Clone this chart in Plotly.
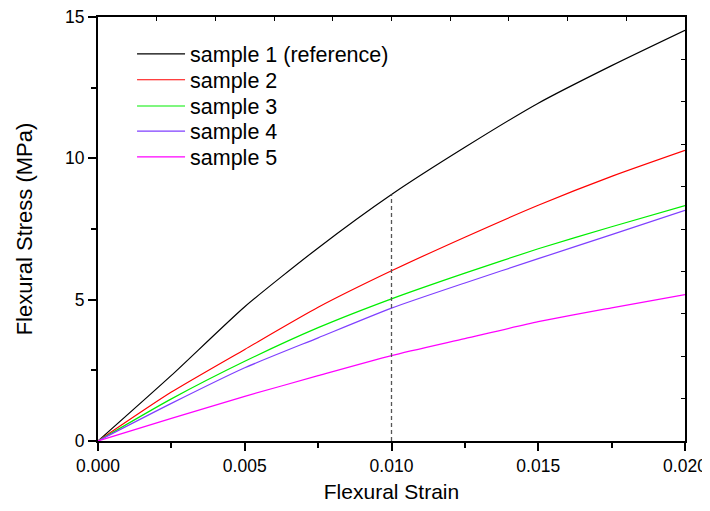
import plotly.graph_objects as go

# flexural strain
strain = [0.0, 0.0025, 0.005, 0.0075, 0.010, 0.0125, 0.015, 0.0175, 0.020]

# flexural stress, MPa
sample1 = [0.0, 2.32, 4.75, 6.83, 8.72, 10.39, 11.95, 13.28, 14.53]
sample2 = [0.0, 1.73, 3.24, 4.73, 6.02, 7.21, 8.34, 9.36, 10.28]
sample3 = [0.0, 1.49, 2.82, 4.01, 5.03, 5.94, 6.80, 7.58, 8.33]
sample4 = [0.0, 1.33, 2.59, 3.65, 4.70, 5.59, 6.45, 7.30, 8.16]
sample5 = [0.0, 0.80, 1.58, 2.31, 3.02, 3.62, 4.22, 4.71, 5.18]

names = ["sample 1 (reference)", "sample 2", "sample 3", "sample 4", "sample 5"]
colors = ["#000000", "#FF0000", "#00EE00", "#7F3FFF", "#FF00FF"]
series = [sample1, sample2, sample3, sample4, sample5]

marker_strain = 0.010  # dashed guide at this strain

fnt = "Liberation Sans, Arial, sans-serif"

fig = go.Figure()
legend_ids = ["legend", "legend2", "legend3", "legend4", "legend5"]
for nm, col, ys, lg in zip(names, colors, series, legend_ids):
    fig.add_trace(go.Scatter(x=strain, y=ys, mode="lines", name=nm, legend=lg,
                             line=dict(color=col, width=1.2, shape="spline",
                                       smoothing=0.6)))

# dashed guide up to sample 1
i = strain.index(marker_strain)
fig.add_trace(go.Scatter(x=[marker_strain, marker_strain], y=[0, sample1[i]],
                         mode="lines", showlegend=False, hoverinfo="skip",
                         line=dict(color="#555555", width=1.3, dash="4px,3px")))

# one legend per row so the rows can sit as tight as in the original
row_y = [0.913, 0.852, 0.790, 0.731, 0.670]
leg = {}
for lg, yy in zip(legend_ids, row_y):
    leg[lg] = dict(x=0.058, y=yy, xanchor="left", yanchor="middle",
                   bgcolor="rgba(0,0,0,0)", itemwidth=48,
                   font=dict(size=21.5, family=fnt))

# page body has an 8px margin -> figure sized so the page doesn't scroll
fig.update_layout(
    width=702, height=495,
    margin=dict(l=90, r=24.5, t=9, b=61.5),
    paper_bgcolor="white", plot_bgcolor="white",
    font=dict(family=fnt, color="black"),
    showlegend=True,
    **leg,
    xaxis=dict(range=[0, 0.02], tickvals=[0, 0.005, 0.01, 0.015, 0.02],
               ticktext=["0.000", "0.005", "0.010", "0.015", "0.020"],
               ticks="outside", ticklen=8, tickwidth=1.6, tickcolor="black",
               minor=dict(dtick=0.0025, ticks="outside", ticklen=5,
                          tickwidth=1.6, tickcolor="black", showgrid=False),
               showline=True, linecolor="black", linewidth=2,
               showgrid=False, zeroline=False, automargin=False,
               ticklabeloverflow="allow",
               tickfont=dict(size=17.5),
               title=dict(text="Flexural Strain", font=dict(size=21), standoff=15)),
    yaxis=dict(range=[0, 15], tickvals=[0, 5, 10, 15],
               ticks="outside", ticklen=8, tickwidth=1.6, tickcolor="black",
               minor=dict(dtick=2.5, ticks="outside", ticklen=5,
                          tickwidth=1.6, tickcolor="black", showgrid=False),
               showline=True, linecolor="black", linewidth=2,
               showgrid=False, zeroline=False, automargin=False,
               ticklabeloverflow="allow",
               tickfont=dict(size=17.5),
               title=dict(text="Flexural Stress (MPa)", font=dict(size=22), standoff=26)),
    xaxis2=dict(range=[0, 0.02], overlaying="x", side="top", anchor="y",
                dtick=0.002, tick0=0, ticks="inside", ticklen=4, tickwidth=1,
                tickcolor="black", showticklabels=False, showline=True,
                linecolor="black", linewidth=2, showgrid=False, zeroline=False,
                automargin=False),
    yaxis2=dict(range=[0, 15], overlaying="y", side="right", anchor="x",
                dtick=1.5, tick0=0, ticks="inside", ticklen=4, tickwidth=1,
                tickcolor="black", showticklabels=False, showline=True,
                linecolor="black", linewidth=2, showgrid=False, zeroline=False,
                automargin=False),
)

# invisible trace so the top/right frame axes are drawn
fig.add_trace(go.Scatter(x=[strain[0]], y=[sample1[0]], xaxis="x2", yaxis="y2",
                         mode="lines", showlegend=False, hoverinfo="skip",
                         line=dict(width=0)))

fig.write_html("out.html")
